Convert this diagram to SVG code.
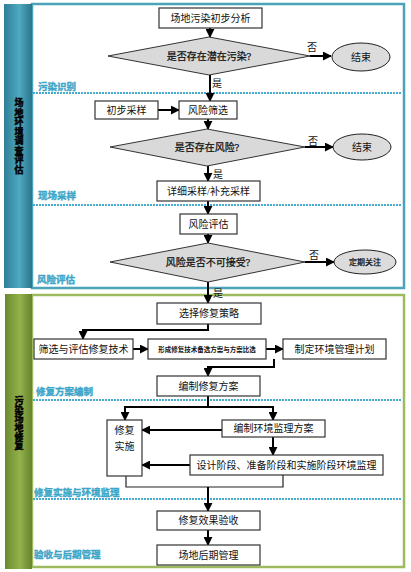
<svg xmlns="http://www.w3.org/2000/svg" width="411" height="572" viewBox="0 0 411 572">
<defs>
<linearGradient id="gTeal" x1="0" y1="0" x2="1" y2="0">
<stop offset="0" stop-color="#2f7e96"/><stop offset="0.55" stop-color="#4eaac2"/><stop offset="1" stop-color="#2a748b"/>
</linearGradient>
<linearGradient id="gGreen" x1="0" y1="0" x2="1" y2="0">
<stop offset="0" stop-color="#6b8a2f"/><stop offset="0.55" stop-color="#93b24b"/><stop offset="1" stop-color="#66832c"/>
</linearGradient>
<marker id="ah" viewBox="0 0 10 10" refX="9" refY="5" markerWidth="4.5" markerHeight="4.5" orient="auto" markerUnits="strokeWidth">
<path d="M0,0 L10,5 L0,10 z" fill="#000"/>
</marker>
</defs>
<style>
.box{fill:#fff;stroke:#333;stroke-width:1.2}
.dia{fill:#d9d9d9;stroke:#333;stroke-width:1}
.ell{fill:#dcdcdc;stroke:#222;stroke-width:1}
.t{font-family:"Liberation Serif","Noto Sans CJK SC",serif;font-size:10px;fill:#111;text-anchor:middle;dominant-baseline:central}
.tb{stroke:#111;stroke-width:0.25}
.ts{font-family:"Liberation Serif","Noto Sans CJK SC",serif;font-size:6.5px;font-weight:bold;fill:#111;text-anchor:middle;dominant-baseline:central}
.sec{font-family:"Liberation Sans","Noto Sans CJK SC",sans-serif;font-size:9.5px;font-weight:bold;fill:#3da6c8;stroke:#3da6c8;stroke-width:0.4}
.band{font-family:"Liberation Sans","Noto Sans CJK SC",sans-serif;font-size:9px;font-weight:bold;fill:#000;stroke:#000;stroke-width:0.5;text-anchor:middle;dominant-baseline:central}
.dot{stroke:#45acd0;stroke-width:2;stroke-dasharray:2 1;fill:none}
.c{stroke:#000;stroke-width:2;fill:none}
.ca{stroke:#000;stroke-width:2;fill:none;marker-end:url(#ah)}
.thin{stroke:#222;stroke-width:1.2;fill:none}
</style>

<g id="panel-top">
<rect x="32" y="4" width="372" height="284" fill="#fff" stroke="#4aa3b8" stroke-width="2.5"/>
<rect x="4" y="4" width="28" height="284" fill="url(#gTeal)"/>
<text class="band"><tspan x="19" y="103">场</tspan><tspan x="19" y="112.5">地</tspan><tspan x="19" y="122">环</tspan><tspan x="19" y="131.5">境</tspan><tspan x="19" y="141">调</tspan><tspan x="19" y="150.5">查</tspan><tspan x="19" y="160">评</tspan><tspan x="19" y="169.5">估</tspan></text>
<line class="dot" x1="33" y1="93" x2="402" y2="93"/>
<line class="dot" x1="33" y1="205" x2="402" y2="205"/>
<text class="sec" x="38" y="90">污染识别</text>
<text class="sec" x="38" y="199">现场采样</text>
<text class="sec" x="37" y="283">风险评估</text>
</g>

<g id="panel-bottom">
<rect x="32" y="295" width="372" height="272" fill="#fff" stroke="#9dbb5e" stroke-width="2.5"/>
<rect x="5" y="294" width="27" height="275" fill="url(#gGreen)"/>
<text class="band"><tspan x="19" y="401">污</tspan><tspan x="19" y="410">染</tspan><tspan x="19" y="419">场</tspan><tspan x="19" y="428">地</tspan><tspan x="19" y="437">修</tspan><tspan x="19" y="446">复</tspan></text>
<line class="dot" x1="33" y1="400" x2="402" y2="400"/>
<line class="dot" x1="33" y1="499" x2="402" y2="499"/>
<text class="sec" x="36" y="395">修复方案编制</text>
<text class="sec" x="34" y="496">修复实施与环境监理</text>
<text class="sec" x="34" y="558">验收与后期管理</text>
</g>

<g id="connectors">
<line class="ca" x1="210" y1="28" x2="210" y2="37"/>
<line class="ca" x1="310" y1="56" x2="331" y2="56"/>
<line class="ca" x1="210" y1="75" x2="210" y2="101"/>
<line class="ca" x1="158" y1="110" x2="179" y2="110"/>
<line class="ca" x1="208" y1="119" x2="208" y2="129"/>
<line class="ca" x1="305" y1="147" x2="333" y2="147"/>
<line class="ca" x1="208" y1="166" x2="208" y2="181"/>
<line class="ca" x1="208" y1="201" x2="208" y2="214"/>
<line class="ca" x1="208" y1="234" x2="208" y2="243"/>
<line class="ca" x1="305" y1="262" x2="334" y2="262"/>
<line class="ca" x1="208" y1="282" x2="208" y2="303"/>
<path class="ca" d="M208,324 V330 H83 V339"/>
<line class="ca" x1="133" y1="349" x2="148" y2="349"/>
<line class="ca" x1="266" y1="349" x2="283" y2="349"/>
<path class="ca" d="M274,359 V367 H208 V376"/>
<line class="c" x1="208" y1="396" x2="208" y2="407"/>
<path class="ca" d="M208,407 H125 V420"/>
<path class="ca" d="M208,407 H273 V420"/>
<line class="ca" x1="222" y1="430" x2="142" y2="430"/>
<line class="ca" x1="273" y1="437" x2="273" y2="455"/>
<line class="ca" x1="190" y1="465" x2="142" y2="465"/>
<path class="thin" d="M126,476 V487 H283 V475"/>
<line class="ca" x1="208" y1="487" x2="208" y2="511"/>
<line class="ca" x1="208" y1="530" x2="208" y2="545"/>
<text class="t" x="312" y="47">否</text>
<text class="t" x="217" y="83">是</text>
<text class="t" x="313" y="141">否</text>
<text class="t" x="218" y="174">是</text>
<text class="t" x="314" y="255">否</text>
<text class="t" x="218" y="293">是</text>
</g>

<g id="n-analysis"><rect class="box" x="159" y="8" width="103" height="20"/><text class="t" x="210.5" y="18">场地污染初步分析</text></g>
<g id="n-d1"><polygon class="dia" points="108,56 209,37 310,56 209,75"/><text class="t tb" x="209" y="56">是否存在潜在污染?</text></g>
<g id="n-end1"><ellipse class="ell" cx="361" cy="57" rx="29" ry="14"/><text class="t" x="361" y="57">结束</text></g>
<g id="n-sample1"><rect class="box" x="95" y="101" width="63" height="18"/><text class="t" x="126.5" y="110">初步采样</text></g>
<g id="n-screen"><rect class="box" x="179" y="101" width="58" height="18"/><text class="t" x="208" y="110">风险筛选</text></g>
<g id="n-d2"><polygon class="dia" points="110,147 207,129 305,147 207,166"/><text class="t tb" x="207" y="147">是否存在风险?</text></g>
<g id="n-end2"><ellipse class="ell" cx="362" cy="147" rx="29" ry="13"/><text class="t" x="362" y="147">结束</text></g>
<g id="n-detail"><rect class="box" x="157" y="181" width="103" height="20"/><text class="t" x="208.5" y="191">详细采样/补充采样</text></g>
<g id="n-assess"><rect class="box" x="180" y="214" width="57" height="20"/><text class="t" x="208.5" y="224">风险评估</text></g>
<g id="n-d3"><polygon class="dia" points="110,262 208,243 305,262 208,282"/><text class="t tb" x="208" y="262">风险是否不可接受?</text></g>
<g id="n-watch"><ellipse class="ell" cx="365" cy="262" rx="31" ry="12"/><text class="t tb" x="365" y="262" style="font-size:8px">定期关注</text></g>
<g id="n-strategy"><rect class="box" x="157" y="303" width="104" height="21"/><text class="t" x="209" y="313.5">选择修复策略</text></g>
<g id="n-tech"><rect class="box" x="34" y="339" width="99" height="20"/><text class="t" x="83.5" y="349">筛选与评估修复技术</text></g>
<g id="n-options"><rect class="box" x="148" y="339" width="118" height="20"/><text class="ts" x="207" y="349">形成修复技术备选方案与方案比选</text></g>
<g id="n-plan"><rect class="box" x="283" y="339" width="103" height="20"/><text class="t" x="334.5" y="349">制定环境管理计划</text></g>
<g id="n-remplan"><rect class="box" x="157" y="376" width="103" height="20"/><text class="t" x="208.5" y="386">编制修复方案</text></g>
<g id="n-implement"><rect class="box" x="107" y="420" width="35" height="56"/><text class="t" x="124.5" y="430">修复</text><text class="t" x="124.5" y="446">实施</text></g>
<g id="n-supplan"><rect class="box" x="222" y="420" width="103" height="17"/><text class="t" x="273.5" y="428.5">编制环境监理方案</text></g>
<g id="n-monitor"><rect class="box" x="190" y="455" width="193" height="20"/><text class="t" x="286.5" y="465">设计阶段、准备阶段和实施阶段环境监理</text></g>
<g id="n-accept"><rect class="box" x="157" y="511" width="103" height="19"/><text class="t" x="208.5" y="520.5">修复效果验收</text></g>
<g id="n-post"><rect class="box" x="157" y="545" width="103" height="20"/><text class="t" x="208.5" y="555">场地后期管理</text></g>
</svg>
